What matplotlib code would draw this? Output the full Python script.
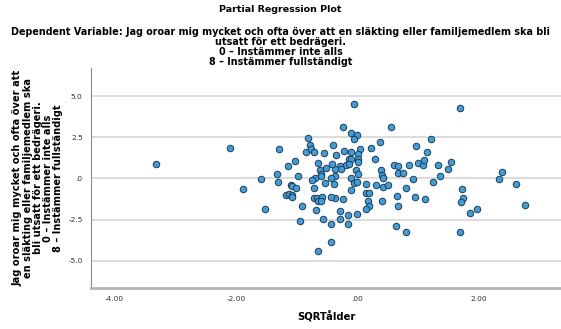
import matplotlib
matplotlib.use("Agg")
import matplotlib.pyplot as plt

# partial residuals: SQRTålder (x) vs dependent variable (y)
x_res = [-3.31, -2.10, -1.89, -1.59, -1.52, -1.29, -1.33, -1.30, -1.14, -1.03,
         -1.18, -1.13, -1.10, -1.07, -1.01, -1.07, -1.07, -0.97, -0.91, -0.94,
         -0.82, -0.78, -0.85, -0.76, -0.72, -0.55, -0.64, -0.52, -0.62, -0.60,
         -0.59, -0.69, -0.74, -0.53, -0.71, -0.71, -0.66, -0.65, -0.58, -0.59,
         -0.68, -0.57, -0.65,
         -0.05, -0.24, -0.10, 0.00, -0.05, -0.40, -0.35, -0.22, -0.11, 0.04,
         0.02, -0.14, -0.10, 0.02, 0.01, -0.19, -0.13, -0.29, -0.27, -0.36,
         -0.42, -0.37, -0.43, -0.38, -0.02, 0.01, -0.10, -0.05, -0.01, -0.10,
         -0.24, -0.36, -0.44, -0.29, -0.29, -0.15, -0.16, -0.01, -0.44, -0.44,
         0.23, 0.37, 0.30, 0.15, 0.31, 0.40, 0.41, 0.42, 0.42, 0.51,
         0.15, 0.20, 0.17, 0.20, 0.15, 0.41, 0.56, 0.61, 0.67, 0.68,
         0.75, 0.81, 0.66, 0.68, 0.64, 0.80, 0.86, 0.97, 0.92, 0.95,
         1.01, 1.08, 1.10, 1.15, 1.22, 1.12, 1.25, 1.33, 1.36, 1.50,
         1.55, 1.69, 1.73, 1.75, 1.71, 1.70, 1.86, 1.98, 2.34, 2.39,
         2.62, 2.76]
y_res = [0.88, 1.87, -0.65, -0.03, -1.83, 1.77, 0.27, -0.23, 0.74, 1.08,
         -0.98, -0.92, -0.38, -0.47, -0.56, -1.00, -1.14, 0.15, -1.65, -2.56,
         2.47, 2.01, 1.61, 1.77, 1.61, 1.56, 0.92, 0.64, 0.52, 0.27,
         0.13, 0.05, -0.11, -0.30, -0.58, -1.18, -1.16, -1.38, -1.14, -1.35,
         -1.89, -2.44, -4.38,
         4.50, 3.14, 2.78, 2.65, 2.41, 2.01, 1.42, 1.67, 1.62, 1.77,
         1.47, 1.20, 1.16, 1.16, 1.00, 0.80, 0.88, 0.76, 0.58, 0.58,
         0.86, 0.17, 0.05, -0.32, 0.50, 0.25, 0.03, -0.25, -0.23, -0.70,
         -1.26, -1.18, -1.10, -1.99, -2.44, -2.19, -2.76, -2.17, -2.74, -3.87,
         1.83, 2.23, 1.16, -0.33, -0.41, 0.52, 0.23, 0.01, -0.50, -0.38,
         -0.90, -0.86, -1.38, -1.67, -1.87, -1.36, 3.12, 0.82, 0.78, 0.32,
         0.33, -0.59, -1.06, -1.68, -2.86, -3.28, 0.82, 1.99, -0.03, -1.14,
         0.94, 0.82, 1.10, 1.62, 2.41, -1.26, -0.19, 0.82, 0.13, 0.56,
         0.98, 4.27, -0.62, -1.18, -1.42, -3.24, -2.09, -1.87, -0.03, 0.38,
         -0.35, -1.59]

x_ticks = [-4, -2, 0, 2]
x_labels = ["-4.00", "-2.00", ".00", "2.00"]
y_ticks = [5, 2.5, 0, -2.5, -5]
y_labels = ["5.0", "2.5", ".0", "-2.5", "-5.0"]

plt.rcParams['font.family'] = ['DejaVu Sans']

fig = plt.figure(figsize=(5.61, 3.29), dpi=100)
ax = fig.add_axes([91 / 561, 1 - 288 / 329, 1 - 91 / 561, 220 / 329])

ax.scatter(x_res, y_res, s=22, c="#36a0e6", edgecolors="#2b3a48",
           linewidths=0.7, zorder=3)

ax.set_xlim(-4.39, 3.36)
ax.set_ylim(-6.65, 6.7)
ax.set_xticks(x_ticks)
ax.set_xticklabels(x_labels)
ax.set_yticks(y_ticks)
ax.set_yticklabels(y_labels)
ax.tick_params(length=0, labelsize=5.3, colors="#333333", pad=6)
ax.grid(axis="y", color="#d6d6d6", linewidth=1.2)
ax.set_axisbelow(True)

for side in ["top", "right"]:
    ax.spines[side].set_visible(False)
ax.spines["left"].set_color("#8a8a8a")
ax.spines["left"].set_linewidth(0.8)
ax.spines["bottom"].set_color("#b5b5b5")
ax.spines["bottom"].set_linewidth(2)

fig.text(326 / 561, 1 - 316 / 329, "SQRTålder", ha="center", va="center",
         fontsize=7.2, fontweight="bold")
fig.text(38 / 561, 1 - 178 / 329,
         "Jag oroar mig mycket och ofta över att\n"
         "en släkting eller familjemedlem ska\n"
         "bli utsatt för ett bedrägeri.\n"
         "0 – Instämmer inte alls\n"
         "8 – Instämmer fullständigt",
         rotation=90, ha="center", va="center", multialignment="center",
         fontsize=7.1, fontweight="bold", linespacing=1.0)

fig.text(0.5, 1 - 10 / 329, "Partial Regression Plot", ha="center", va="center",
         fontsize=6.8, fontweight="bold")
fig.text(0.5, 1 - 47 / 329,
         "Dependent Variable: Jag oroar mig mycket och ofta över att en släkting eller familjemedlem ska bli\n"
         "utsatt för ett bedrägeri.\n"
         "0 – Instämmer inte alls\n"
         "8 – Instämmer fullständigt",
         ha="center", va="center", fontsize=6.95, fontweight="bold", linespacing=1.03)

fig.savefig("out.png", dpi=100)
